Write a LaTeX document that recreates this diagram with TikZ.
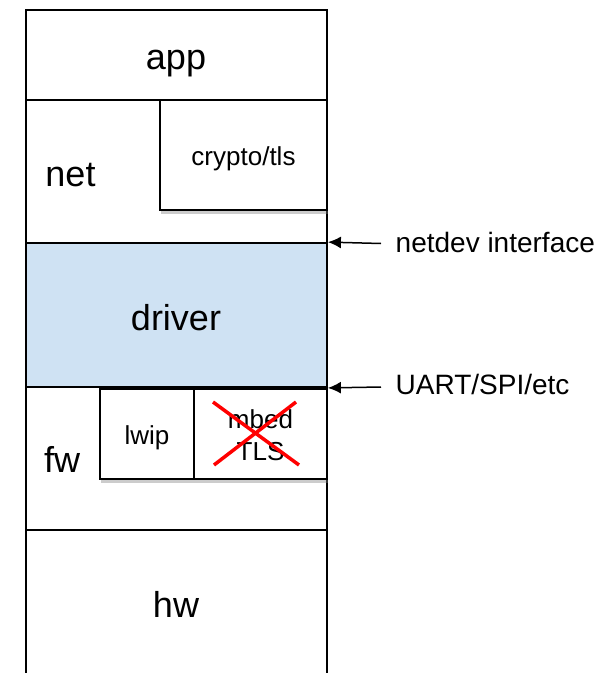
\documentclass[tikz,border=0pt]{standalone}
\usepackage{fontspec}
\setmainfont{Liberation Sans}
\usetikzlibrary{shadows,arrows.meta}
\definecolor{drvblue}{HTML}{CFE2F3}
\begin{document}
\begin{tikzpicture}[x=1pt,y=-1pt,
  layer/.style={draw=black, line width=1.8pt, minimum width=301pt, inner sep=0pt},
  inbox/.style={draw=black, line width=1.8pt, fill=white, inner sep=0pt,
    drop shadow={shadow xshift=1pt, shadow yshift=-4pt, opacity=0.4}},
  big/.style={anchor=base, inner sep=0pt, font=\fontsize{36}{40}\selectfont},
  small/.style={anchor=base, inner sep=0pt, font=\fontsize{26}{30}\selectfont},
  lbl/.style={anchor=base west, inner sep=0pt, font=\fontsize{28}{32}\selectfont},
  ptr/.style={-{Latex[length=13pt,width=12pt]}, line width=1.5pt}]
\clip (0,0) rectangle (604,673);
\fill[white] (0,0) rectangle (604,673);
% layers
\node[layer, minimum height=90pt] (app) at (176.5,55) {};
\node[layer, minimum height=143pt] (net) at (176.5,171.5) {};
\node[layer, minimum height=144pt, fill=drvblue] (driver) at (176.5,315) {};
\node[layer, minimum height=143pt] (fw) at (176.5,458.5) {};
\node[layer, minimum height=160pt] (hw) at (176.5,610) {};
% inner boxes
\node[inbox, minimum width=167pt, minimum height=110pt] (crypto) at (243.5,155) {};
\node[inbox, minimum width=94pt, minimum height=90pt] (lwip) at (147,434) {};
\node[inbox, minimum width=133pt, minimum height=90pt] (mbed) at (260.5,434) {};
% texts
\node[big] (tapp) at (176,69.5) {app};
\node[big] (tnet) at (70.5,186.7) {net};
\node[big] (tdrv) at (176,330) {driver};
\node[big] (tfw) at (62,472.7) {fw};
\node[big] (thw) at (176,617) {hw};
\node[small] (tcrypto) at (243.5,165) {crypto/tls};
\node[small] (tlwip) at (147,444) {lwip};
\node[small] (tmbed1) at (260.5,428) {mbed};
\node[small] (tmbed2) at (260.5,460) {TLS};
% red cross
\coordinate (x1) at (213,402);
\coordinate (x2) at (299,465);
\coordinate (x3) at (296,402);
\coordinate (x4) at (214,465);
\draw[red, line width=3.5pt] (x1) -- (x2);
\draw[red, line width=3.5pt] (x3) -- (x4);
% arrows
\coordinate (a1) at (381,243.5);
\coordinate (a2) at (381,387);
\draw[ptr] (a1) -- (driver.north east);
\draw[ptr] (a2) -- (driver.south east);
\node[lbl] (lnetdev) at (395.5,252) {netdev interface};
\node[lbl] (luart) at (395.5,394) {UART/SPI/etc};
\end{tikzpicture}
\end{document}
